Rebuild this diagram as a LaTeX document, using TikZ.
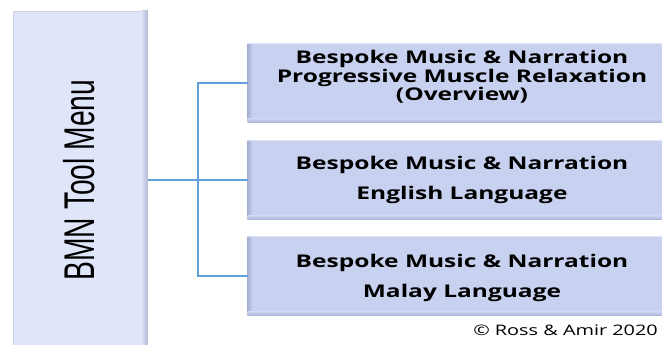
\documentclass[tikz,border=0pt]{standalone}
\usepackage{fontspec}
\newfontfamily\boxfont[FakeStretch=1.4]{Open Sans}
\newfontfamily\copyfont[FakeStretch=1.37]{Open Sans}
\newfontfamily\menufont[FakeStretch=0.656]{Liberation Sans}
\definecolor{menufill}{RGB}{224,230,250}
\definecolor{menuedge}{RGB}{208,212,224}
\definecolor{menushade}{RGB}{176,184,212}
\definecolor{boxfill}{RGB}{200,210,240}
\definecolor{boxtop}{RGB}{222,227,245}
\definecolor{boxshade}{RGB}{165,176,214}
\definecolor{conncol}{RGB}{98,160,220}
\tikzset{
  menubox/.style={rectangle, draw=menuedge, line width=0.8pt, fill=menufill, inner sep=0pt},
  itembox/.style={rectangle, draw=boxtop, line width=0.8pt, fill=boxfill, inner sep=0pt, minimum width=428pt, minimum height=79pt},
  itemtext/.style={align=center, inner sep=0pt, font=\boxfont\bfseries\fontsize{17.5}{18.5}\selectfont},
  itemtextwide/.style={itemtext, font=\boxfont\bfseries\fontsize{17.5}{30}\selectfont},
  conn/.style={draw=conncol, line width=1.3pt},
}
\begin{document}
\begin{tikzpicture}[x=1pt,y=-1pt]
\useasboundingbox (0,0) rectangle (662,345);
\clip (0,0) rectangle (662,345);
\fill[white] (0,0) rectangle (662,345);
% left menu box
\node[menubox, minimum width=134pt, minimum height=340pt, anchor=north west] (menu) at (13,11) {};
\shade[left color=menufill, right color=menushade] ([xshift=-7pt]menu.north east) rectangle (menu.south east);
\node[rotate=90, anchor=base, inner sep=0pt, font=\menufont\fontsize{43}{43}\selectfont] (menutext) at (94,180) {BMN Tool Menu};
% item boxes
\foreach \n/\y in {b1/83, b2/180, b3/276}{
  \node[itembox] (\n) at (462,\y) {};
  \shade[left color=boxshade, right color=boxfill] (\n.north west) rectangle ([xshift=5pt]\n.south west);
  \shade[top color=boxfill, bottom color=boxshade] ([yshift=4pt]\n.south west) rectangle (\n.south east);
  \draw[boxtop, line width=1pt] (\n.north west) -- (\n.north east);
}
\node[itemtext] (t1) at (462,77) {Bespoke Music \& Narration\\Progressive Muscle Relaxation\\(Overview)};
\node[itemtextwide] (t2) at (462,180) {Bespoke Music \& Narration\\English Language};
\node[itemtextwide] (t3) at (462,278) {Bespoke Music \& Narration\\Malay Language};
% connectors
\coordinate (spine) at (198,180);
\draw[conn] (menu.east |- b2.west) -- (b2.west);
\draw[conn] (b1.west) -- (b1.west -| spine) -- (b3.west -| spine) -- (b3.west);
% copyright
\node[anchor=base east, inner sep=0pt, font=\copyfont\fontsize{14.5}{14.5}\selectfont] (copy) at (658,335) {© Ross \& Amir 2020};
\end{tikzpicture}
\end{document}
